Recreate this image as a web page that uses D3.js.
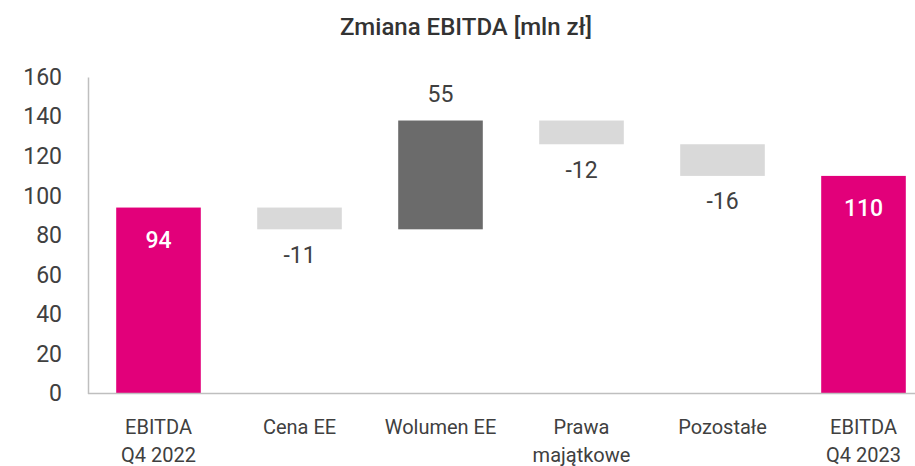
<!DOCTYPE html>
<html>
<head>
<meta charset="utf-8">
<script src="https://cdn.jsdelivr.net/npm/d3@7"></script>
<style>
  html, body { margin: 0; padding: 0; background: #fff; }
  svg { display: block; }
  text { font-family: Roboto, "Open Sans", sans-serif; }
</style>
</head>
<body>
<svg id="chart" width="915" height="466"></svg>
<script>
// Waterfall steps: EBITDA bridge Q4 2022 -> Q4 2023 [mln zł]
const categories = [["EBITDA", "Q4 2022"], ["Cena EE"], ["Wolumen EE"], ["Prawa", "majątkowe"], ["Pozostałe"], ["EBITDA", "Q4 2023"]];
const values = [94, -11, 55, -12, -16, 110];
const kinds = ["total", "delta", "delta", "delta", "delta", "total"];
const yTicks = [0, 20, 40, 60, 80, 100, 120, 140, 160];

const colors = { total: "#e2007a", up: "#6b6b6b", down: "#d9d9d9" };
const textColor = "#404040";

const svg = d3.select("#chart");
const W = 915;

const x = d3.scaleBand()
  .domain(d3.range(categories.length))
  .range([88, 934])
  .paddingInner(0.4)
  .paddingOuter(0.2);

const y = d3.scaleLinear().domain([0, 160]).range([393.5, 77]);

// build running totals for floating bars
let running = 0;
const bars = values.map((v, i) => {
  let lo, hi;
  if (kinds[i] === "total") { lo = 0; hi = v; running = v; }
  else { const start = running; running += v; lo = Math.min(start, running); hi = Math.max(start, running); }
  const fill = kinds[i] === "total" ? colors.total : (v >= 0 ? colors.up : colors.down);
  return { i, v, lo, hi, fill, kind: kinds[i] };
});

// title
svg.append("text")
  .attr("x", 466).attr("y", 35)
  .attr("text-anchor", "middle")
  .attr("font-size", 24).attr("font-weight", 500)
  .attr("fill", "#333")
  .text("Zmiana EBITDA [mln zł]");

// y axis
const yAxis = svg.append("g")
  .attr("transform", "translate(88,0)")
  .call(d3.axisLeft(y).tickValues(yTicks).tickSize(0).tickPadding(26));
yAxis.select(".domain").attr("stroke", "#bfbfbf").attr("stroke-width", 1.5);
yAxis.selectAll("text")
  .attr("font-size", 23).attr("fill", textColor)
  .attr("font-family", "Roboto, sans-serif");

// bars
svg.append("g").selectAll("rect").data(bars).join("rect")
  .attr("x", d => x(d.i))
  .attr("width", x.bandwidth())
  .attr("y", d => y(d.hi))
  .attr("height", d => y(d.lo) - y(d.hi))
  .attr("fill", d => d.fill);

// x axis baseline
svg.append("line")
  .attr("x1", 88).attr("x2", W)
  .attr("y1", y(0)).attr("y2", y(0))
  .attr("stroke", "#bfbfbf").attr("stroke-width", 1.5);

// category labels
const cat = svg.append("g").selectAll("text").data(categories).join("text")
  .attr("text-anchor", "middle")
  .attr("font-size", 20)
  .attr("fill", textColor);
cat.each(function (lines, i) {
  const t = d3.select(this);
  lines.forEach((line, k) => {
    t.append("tspan")
      .attr("x", x(i) + x.bandwidth() / 2)
      .attr("y", 434 + k * 27.5)
      .text(line);
  });
});

// value labels
svg.append("g").selectAll("text").data(bars).join("text")
  .attr("text-anchor", "middle")
  .attr("dominant-baseline", "central")
  .attr("font-size", 23)
  .attr("x", d => x(d.i) + x.bandwidth() / 2)
  .attr("y", d => {
    if (d.kind === "total") return y(d.hi) + 32.5;
    if (d.v >= 0) return y(d.hi) - 26.5;
    return y(d.lo) + 26;
  })
  .attr("fill", d => d.kind === "total" ? "#fff" : textColor)
  .attr("font-weight", d => d.kind === "total" ? 500 : 400)
  .text(d => d.v);
</script>
</body>
</html>
